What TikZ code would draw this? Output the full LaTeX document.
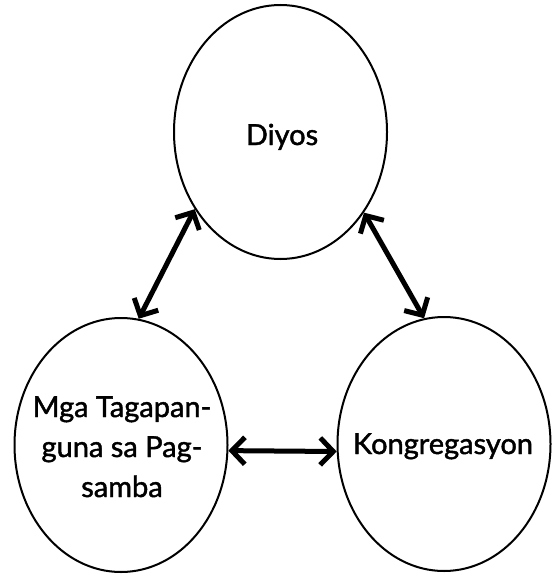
\documentclass[tikz,border=0pt]{standalone}
\usepackage{fontspec}
\setmainfont{Lato}
\newfontfamily\lblfont{Lato}[FakeBold=1.5]
\usetikzlibrary{shapes.geometric,arrows.meta}
\begin{document}
\begin{tikzpicture}[x=1pt,y=-1pt,
  blob/.style={ellipse,draw,line width=2pt,minimum width=213pt,minimum height=254pt,inner sep=0pt},
  lbl/.style={font=\lblfont\fontsize{29}{40}\selectfont,align=center,inner sep=0pt,anchor=base},
  link/.style={line width=5pt,{Straight Barb[length=13pt,width=27pt]}-{Straight Barb[length=13pt,width=27pt]}}]
\useasboundingbox (0,0) rectangle (553,575);
\node[blob] (diyos) at (280.5,132) {};
\node[blob] (mga) at (121,445) {};
\node[blob] (kong) at (444,444) {};
\node[lbl] (tdiyos) at (282,145) {Diyos};
\node[lbl] (tmga) at (122,497) {Mga Tagapan-\\guna sa Pag-\\samba};
\node[lbl] (tkong) at (443,454) {Kongregasyon};
\draw[link] (diyos.222.8) -- (mga.82.4);
\draw[link] (diyos.316.6) -- (kong.99.8);
\draw[link] (mga.-3.7) -- (kong.184);
\end{tikzpicture}
\end{document}
